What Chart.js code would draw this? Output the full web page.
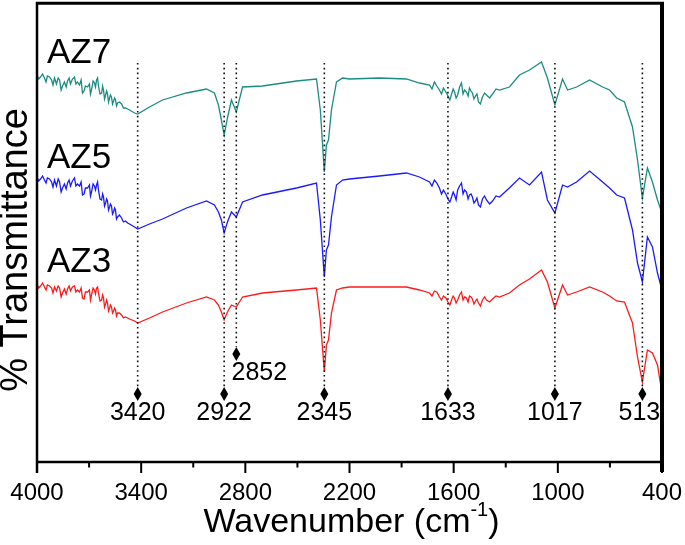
<!DOCTYPE html>
<html><head><meta charset="utf-8">
<script src="https://cdn.jsdelivr.net/npm/chart.js@4.4.1/dist/chart.umd.min.js"></script>
<style>html,body{margin:0;padding:0;background:#fff}canvas{display:block}</style>
</head><body>
<canvas id="c" width="685" height="545"></canvas>
<script>
// Wavenumber (cm-1) sample positions
const wavenumber = [
4000,3990,3980,3968,3957,3948,3940,3928,3916,3908,
3899,3888,3878,3870,3861,3853,3842,3832,3824,3815,
3807,3796,3784,3776,3767,3755,3746,3738,3729,3721,
3709,3698,3692,3686,3677,3669,3663,3657,3651,3646,
3637,3628,3622,3617,3611,3605,3599,3594,3588,3582,
3577,3571,3565,3559,3553,3548,3542,3536,3525,3513,
3502,3490,3478,3467,3438,3420,3352,3277,3139,3024,
2978,2955,2938,2922,2903,2880,2852,2816,2701,2505,
2390,2368,2345,2333,2321,2304,2275,2240,2200,2027,
1872,1797,1739,1725,1711,1697,1682,1670,1659,1645,
1633,1622,1612,1603,1595,1586,1577,1566,1555,1546,
1537,1526,1517,1509,1500,1492,1483,1474,1466,1457,
1446,1434,1422,1411,1393,1376,1356,1336,1279,1221,
1163,1094,1060,1017,973,944,892,817,742,702,
661,616,570,541,513,484,455,426,400];
// Transmittance (arbitrary units, curves stacked)
const az7 = [
387,383,385,388,384,380,386,385,382,377,
384,378,384,382,372,376,380,375,381,384,
378,383,385,378,380,377,382,369,371,376,
375,378,368,372,381,379,375,382,384,376,
368,369,376,372,363,367,371,368,360,364,
367,365,358,361,364,362,356,359,360,358,
354,354,353,352,349,348,355,362,369,373,
369,357,342,327,344,362,350,375,376,381,
383,352,290,317,322,352,380,384,383,384,
383,379,377,373,380,376,372,368,374,370,
366,362,368,373,370,364,367,375,379,368,
372,370,366,374,371,369,363,366,368,360,
358,365,369,367,364,368,373,372,375,387,
392,400,384,357,383,372,375,382,375,372,
364,360,335,302,264,294,280,262,249];
const az5 = [
285,281,283,286,282,279,284,283,280,275,
282,276,283,280,270,274,278,273,279,282,
276,281,284,276,278,276,280,267,268,274,
274,277,266,270,278,276,272,277,280,272,
263,262,268,265,256,259,263,261,252,255,
258,256,248,250,254,252,243,245,247,244,
240,241,239,238,235,233,238,243,254,261,
257,250,242,229,240,250,245,260,267,274,
279,242,185,212,217,245,277,282,283,286,
289,285,280,276,282,279,274,268,272,268,
263,260,265,270,267,262,272,276,279,268,
272,270,263,267,268,265,259,261,264,257,
255,263,266,262,258,261,266,265,274,284,
277,290,262,249,277,275,280,291,280,274,
267,264,232,199,180,225,215,189,172];
const az3 = [
178,174,176,179,175,172,177,176,174,169,
175,171,176,174,165,169,173,168,173,176,
171,175,176,170,172,170,174,164,163,170,
170,172,162,167,174,172,168,174,175,169,
161,162,167,164,155,158,162,159,151,154,
157,155,149,151,154,152,146,149,149,147,
144,145,144,143,141,139,144,150,159,165,
162,157,150,142,150,157,155,165,169,172,
174,142,90,117,122,149,172,174,175,175,
175,172,169,166,171,170,165,162,166,164,
160,157,162,166,164,159,162,167,170,162,
165,164,160,166,165,163,158,161,163,159,
156,162,165,162,160,163,166,165,169,177,
183,192,180,154,177,167,170,175,170,166,
161,160,139,105,80,112,109,97,69];
const seriesNames = ['AZ7','AZ5','AZ3'];
const seriesColors = ['#1b8c82','#1a1aff','#ff1a1a'];
const xTickValues = [4000,3400,2800,2200,1600,1000,400];
const minorTickValues = [3700,3100,2500,1900,1300,700];
const peakPositions = [3420,2922,2852,2345,1633,1017,513];
const peakLabels = ['3420','2922','2852','2345','1633','1017','513'];

const FONT = '"Liberation Sans", Arial, Helvetica, sans-serif';

function toPoints(vals){ return wavenumber.map((w,i)=>({x:w,y:vals[i]})); }

const decor = {
  id:'decor',
  afterDraw(chart){
    const ctx = chart.ctx, a = chart.chartArea;
    const xs = chart.scales.x, ys = chart.scales.y;
    ctx.save();
    // frame
    ctx.strokeStyle = '#000';
    ctx.lineCap = 'butt';
    ctx.lineWidth = 3; ctx.beginPath(); ctx.moveTo(a.left-1, 3.3); ctx.lineTo(a.right+2, 3.3); ctx.stroke();
    ctx.lineWidth = 4; ctx.beginPath(); ctx.moveTo(a.right, 2); ctx.lineTo(a.right, a.bottom+10); ctx.stroke();
    ctx.lineWidth = 2.5; ctx.beginPath(); ctx.moveTo(a.left, 2); ctx.lineTo(a.left, a.bottom+11); ctx.stroke();
    ctx.lineWidth = 2.5; ctx.beginPath(); ctx.moveTo(a.left, a.bottom); ctx.lineTo(a.right, a.bottom); ctx.stroke();
    // ticks
    ctx.lineWidth = 2;
    xTickValues.forEach(v=>{ const px = xs.getPixelForValue(v); ctx.beginPath(); ctx.moveTo(px, a.bottom); ctx.lineTo(px, a.bottom+11); ctx.stroke(); });
    minorTickValues.forEach(v=>{ const px = xs.getPixelForValue(v); ctx.beginPath(); ctx.moveTo(px, a.bottom); ctx.lineTo(px, a.bottom+5.5); ctx.stroke(); });
    // peak markers
    peakPositions.forEach((w,i)=>{
      const px = xs.getPixelForValue(w);
      const isShort = peakLabels[i]==='2852';
      const dy = isShort ? ys.getPixelForValue(108) : ys.getPixelForValue(68);
      ctx.strokeStyle = '#111'; ctx.lineWidth = 1.6; ctx.setLineDash([1.6,3.2]);
      ctx.beginPath(); ctx.moveTo(px, 63); ctx.lineTo(px, dy-7); ctx.stroke();
      ctx.setLineDash([]);
      ctx.fillStyle = '#000';
      ctx.beginPath(); ctx.moveTo(px, dy-7); ctx.lineTo(px+4, dy); ctx.lineTo(px, dy+7); ctx.lineTo(px-4, dy); ctx.closePath(); ctx.fill();
      ctx.font = '25px ' + FONT; ctx.textAlign = 'center'; ctx.textBaseline = 'middle';
      let lx = px;
      if (isShort) lx = px + 23;
      if (peakLabels[i]==='513') lx = px - 3;
      ctx.fillText(peakLabels[i], lx, dy + 19);
    });
    // series names
    ctx.fillStyle = '#000'; ctx.font = '35px ' + FONT; ctx.textAlign = 'left'; ctx.textBaseline = 'alphabetic';
    const nameY = [399, 294, 190];
    seriesNames.forEach((n,i)=>{ ctx.fillText(n, a.left + 10, ys.getPixelForValue(nameY[i])); });
    // x title with superscript
    const main = 'Wavenumber (cm', sup = '-1', close = ')';
    ctx.font = '34px ' + FONT;
    const w1 = ctx.measureText(main).width, w3 = ctx.measureText(close).width;
    ctx.font = '20px ' + FONT; const w2 = ctx.measureText(sup).width;
    const total = w1 + w2 + w3;
    let x0 = (a.left + a.right)/2 - total/2 + 2;
    const by = 532;
    ctx.font = '34px ' + FONT; ctx.fillText(main, x0, by);
    ctx.font = '20px ' + FONT; ctx.fillText(sup, x0 + w1, by - 16);
    ctx.font = '34px ' + FONT; ctx.fillText(close, x0 + w1 + w2, by);
    // y title
    ctx.save();
    ctx.translate(17, 250); ctx.rotate(-Math.PI/2);
    ctx.font = '38px ' + FONT; ctx.textAlign = 'center'; ctx.textBaseline = 'middle';
    ctx.fillText('% Transmittance', 0, 0);
    ctx.restore();
    ctx.restore();
  }
};

new Chart(document.getElementById('c'), {
  type: 'scatter',
  data: {
    datasets: [az7, az5, az3].map((vals,i)=>({
      label: seriesNames[i],
      data: toPoints(vals),
      showLine: true,
      borderColor: seriesColors[i],
      backgroundColor: seriesColors[i],
      borderWidth: 1.3,
      pointRadius: 0,
      tension: 0,
      fill: false
    }))
  },
  options: {
    responsive: false,
    animation: false,
    devicePixelRatio: 1,
    layout: { padding: { left: 37, right: 23, top: 4, bottom: 0 } },
    plugins: { legend: { display: false }, tooltip: { enabled: false } },
    scales: {
      x: {
        type: 'linear', reverse: true, min: 400, max: 4000,
        grid: { display: false, drawTicks: false },
        border: { display: false },
        ticks: { stepSize: 600, padding: 17, color: '#000', font: { size: 24, family: FONT }, callback: v => String(v), maxRotation: 0 },
        afterFit: s => { s.height = 83; s.paddingLeft = 0; s.paddingRight = 0; }
      },
      y: { display: false, min: 0, max: 458, afterFit: s => { s.width = 0; } }
    }
  },
  plugins: [decor]
});
</script>
</body></html>
